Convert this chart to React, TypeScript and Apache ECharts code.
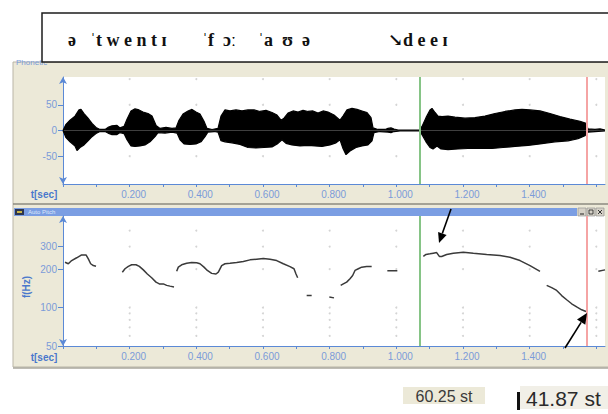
import React, { useEffect, useRef } from "react";
import * as echarts from "echarts";

// ---------- data ----------
const timeTicks = [0, 0.1, 0.2, 0.3, 0.4, 0.5, 0.6, 0.7, 0.8, 0.9, 1.0, 1.1, 1.2, 1.3, 1.4, 1.5, 1.6];
const timeLabels = [0.2, 0.4, 0.6, 0.8, 1.0, 1.2, 1.4];
const gridTimes = [0.2, 0.4, 0.6, 0.8, 1.0, 1.2, 1.4, 1.6];
const timeMax = 1.626;

const ampMajorTicks = [-50, 0, 50];
const ampMinorTicks = [-100, -75, -25, 25, 75, 100];
const ampGridLevels = [100, 50, -50];

const freqLabels = [50, 100, 200, 300];
const freqMinorTicks = [60, 70, 80, 90, 400];
const freqGridLevels = [400, 300, 200, 100, 90, 80, 70, 60];
const freqMin = 50;
const freqMax = 520;

// waveform envelope: [time s, amplitude]
const waveUpper: [number, number][] = [
  [0.000, 0], [0.009, 12], [0.021, 20], [0.036, 28], [0.048, 40], [0.054, 41], [0.063, 33], [0.075, 24], [0.087, 14], [0.099, 6],
  [0.111, 2], [0.126, 2], [0.135, 6], [0.147, 9], [0.162, 10], [0.171, 5], [0.183, 8], [0.192, 22], [0.204, 38], [0.216, 42],
  [0.228, 40], [0.240, 36], [0.255, 33], [0.267, 28], [0.279, 10], [0.291, 4], [0.309, 6], [0.327, 4], [0.339, 5], [0.348, 20],
  [0.360, 32], [0.375, 38], [0.387, 41], [0.399, 36], [0.411, 32], [0.423, 18], [0.432, 4], [0.447, 2], [0.465, 4], [0.474, 28],
  [0.486, 40], [0.501, 38], [0.519, 40], [0.537, 38], [0.555, 40], [0.573, 40], [0.591, 37], [0.609, 39], [0.627, 35], [0.642, 30],
  [0.654, 20], [0.663, 24], [0.675, 34], [0.690, 38], [0.705, 36], [0.720, 39], [0.735, 37], [0.750, 38], [0.765, 34], [0.780, 38],
  [0.795, 36], [0.813, 30], [0.831, 20], [0.840, 28], [0.852, 40], [0.867, 43], [0.882, 41], [0.897, 38], [0.912, 35], [0.924, 25],
  [0.930, 5], [0.945, 2], [0.966, 2], [0.975, 4], [0.984, 5], [0.993, 3], [1.005, 1], [1.071, 1], [1.077, 8], [1.089, 25],
  [1.101, 40], [1.107, 43], [1.116, 35], [1.125, 28], [1.137, 27], [1.155, 28], [1.176, 26], [1.206, 24], [1.236, 25], [1.266, 28],
  [1.296, 33], [1.326, 37], [1.356, 40], [1.377, 41], [1.401, 40], [1.431, 38], [1.461, 33], [1.491, 27], [1.521, 22], [1.551, 18],
  [1.569, 14], [1.575, 3], [1.596, 2], [1.611, 3], [1.626, 1],
];
const waveLower: [number, number][] = [
  [0.000, 0], [0.009, -14], [0.021, -22], [0.036, -30], [0.042, -39], [0.051, -33], [0.063, -28], [0.075, -20], [0.087, -12], [0.099, -6],
  [0.111, -2], [0.126, -2], [0.135, -5], [0.147, -8], [0.162, -8], [0.171, -4], [0.183, -6], [0.192, -18], [0.204, -30], [0.216, -31],
  [0.231, -30], [0.246, -28], [0.261, -22], [0.276, -12], [0.285, -4], [0.306, -5], [0.327, -3], [0.342, -5], [0.351, -18], [0.363, -26],
  [0.381, -27], [0.399, -26], [0.414, -22], [0.426, -12], [0.435, -3], [0.453, -2], [0.465, -3], [0.474, -20], [0.486, -22], [0.507, -24],
  [0.531, -27], [0.555, -33], [0.579, -34], [0.603, -33], [0.627, -32], [0.645, -25], [0.657, -18], [0.669, -25], [0.687, -28], [0.711, -30],
  [0.735, -29], [0.756, -30], [0.777, -31], [0.801, -28], [0.819, -24], [0.831, -18], [0.840, -35], [0.849, -47], [0.861, -40], [0.879, -33],
  [0.897, -30], [0.915, -28], [0.927, -20], [0.933, -4], [0.951, -2], [0.975, -3], [0.984, -4], [0.993, -2], [1.011, -1], [1.071, -1],
  [1.077, -8], [1.089, -22], [1.101, -33], [1.110, -36], [1.122, -30], [1.134, -36], [1.155, -37], [1.185, -36], [1.215, -35], [1.251, -35],
  [1.287, -35], [1.320, -33], [1.356, -31], [1.395, -29], [1.431, -26], [1.476, -22], [1.515, -20], [1.545, -16], [1.566, -10], [1.575, -3],
  [1.596, -2], [1.626, -1],
];

// pitch track: [time s, Hz] (null = unvoiced gap)
const pitchTrack: [number, number | null][] = [
  [0.006, 226], [0.016, 220], [0.026, 233], [0.041, 245], [0.056, 258], [0.069, 258], [0.076, 240], [0.083, 220], [0.091, 213], [0.099, 210],
  [0.140, null],
  [0.178, 189], [0.186, 201], [0.196, 210], [0.206, 216], [0.219, 216], [0.229, 210], [0.241, 197], [0.253, 183], [0.266, 171], [0.279, 158],
  [0.289, 153], [0.301, 153], [0.311, 149], [0.321, 147], [0.333, 145],
  [0.337, null],
  [0.341, 192], [0.346, 207], [0.356, 216], [0.371, 222], [0.386, 225], [0.401, 224], [0.411, 220], [0.423, 207], [0.433, 195], [0.446, 185],
  [0.459, 183], [0.466, 189], [0.476, 213], [0.486, 220], [0.501, 222], [0.521, 225], [0.541, 229], [0.561, 236], [0.581, 239], [0.601, 242],
  [0.621, 239], [0.641, 233], [0.661, 220], [0.681, 209], [0.693, 201], [0.699, 183], [0.704, 171],
  [0.720, null],
  [0.731, 124], [0.746, 124],
  [0.770, null],
  [0.799, 121], [0.813, 119],
  [0.825, null],
  [0.833, 149], [0.841, 153], [0.851, 158], [0.861, 168], [0.869, 178], [0.876, 195], [0.886, 201], [0.896, 207], [0.911, 209], [0.926, 209],
  [0.950, null],
  [0.973, 194], [1.003, 194],
  [1.040, null],
  [1.081, 251], [1.089, 260], [1.101, 263], [1.111, 266], [1.121, 269], [1.129, 251], [1.136, 251], [1.151, 260], [1.171, 266], [1.201, 271],
  [1.231, 266], [1.271, 260], [1.311, 255], [1.341, 247], [1.371, 233], [1.401, 213], [1.431, 192],
  [1.440, null],
  [1.451, 149], [1.466, 143], [1.481, 136], [1.496, 124], [1.511, 115], [1.526, 107], [1.541, 101], [1.556, 96], [1.569, 93],
  [1.590, null],
  [1.606, 192], [1.626, 197],
];

const cursorStart = 1.071;
const cursorEnd = 1.572;

const ipaGroups = ["ə", "ˈt w e n t ɪ", "ˈf\u2002ɔː", "ˈa\u2002ʊ\u2002ə", "↘d e e ɪ"];
const readouts = ["60.25 st", "41.87 st"];
const panelTitle = "Phonetic";
const pitchWindowTitle = "Auto Pitch";

// ---------- styles / layout ----------
const BLUE = "#5b89d6";
const LABEL_BLUE = "#7b9bd9";
const NAME_BLUE = "#4a78cc";
const BEIGE = "#ece9d8";
const SANS = "'Liberation Sans', Arial, sans-serif";
const ipaX = [68, 90, 202, 258, 388];

const log2 = (v: number) => Math.log2(v);

export default function App() {
  const ref = useRef<HTMLDivElement>(null);

  useEffect(() => {
    if (!ref.current) return;
    const chart = echarts.init(ref.current, undefined, { renderer: "svg" });

    const timeAxis = (gridIndex: number) => ({
      type: "value",
      gridIndex,
      min: 0,
      max: timeMax,
      axisLine: { show: true, onZero: false, lineStyle: { color: BLUE, width: 1 } },
      axisTick: { show: true, length: 3, customValues: timeTicks, lineStyle: { color: BLUE } },
      axisLabel: {
        show: true,
        customValues: timeLabels,
        formatter: (v: number) => v.toFixed(3),
        color: LABEL_BLUE,
        fontSize: 10,
        fontFamily: SANS,
        margin: 5,
        padding: [0, 0, 0, 8],
      },
      splitLine: { show: false },
    });

    const gridDots = (xs: number[], ys: number[], mapY: (v: number) => number) => {
      const out: number[][] = [];
      xs.forEach((x) => ys.forEach((y) => out.push([x, mapY(y)])));
      return out;
    };

    const ipaElements = ipaGroups.map((g, i) => ({
      type: "text",
      x: ipaX[i],
      y: 40,
      z: 12,
      style: {
        text: g,
        fill: "#111",
        font: "bold 18px 'Liberation Serif', 'DejaVu Serif', serif",
        verticalAlign: "middle",
        align: "left",
      },
    }));

    const option: any = {
      animation: false,
      backgroundColor: "#ffffff",
      grid: [
        { left: 63, top: 77, width: 542, height: 107, show: false },
        { left: 63, top: 216, width: 542, height: 130, show: false },
      ],
      xAxis: [timeAxis(0), timeAxis(1)],
      yAxis: [
        {
          type: "value",
          gridIndex: 0,
          min: -104,
          max: 104,
          offset: 3,
          axisLine: { show: true, symbol: ["arrow", "arrow"], symbolSize: [6, 7], lineStyle: { color: BLUE } },
          axisTick: { show: true, length: 5, customValues: ampMajorTicks, lineStyle: { color: BLUE } },
          axisLabel: { customValues: ampMajorTicks, color: LABEL_BLUE, fontSize: 10, fontFamily: SANS, margin: 3 },
          splitLine: { show: false },
        },
        {
          type: "value",
          gridIndex: 0,
          min: -104,
          max: 104,
          offset: 3,
          axisLine: { show: false },
          axisTick: { show: true, length: 3, customValues: ampMinorTicks, lineStyle: { color: BLUE } },
          axisLabel: { show: false },
          splitLine: { show: false },
        },
        {
          type: "value",
          gridIndex: 1,
          min: log2(freqMin),
          max: log2(freqMax),
          offset: 3,
          axisLine: { show: true, symbol: ["arrow", "arrow"], symbolSize: [6, 7], lineStyle: { color: BLUE } },
          axisTick: { show: true, length: 5, customValues: freqLabels.map(log2), lineStyle: { color: BLUE } },
          axisLabel: {
            customValues: freqLabels.map(log2),
            formatter: (v: number) => String(Math.round(Math.pow(2, v))),
            color: LABEL_BLUE,
            fontSize: 10,
            fontFamily: SANS,
            margin: 3,
          },
          splitLine: { show: false },
        },
        {
          type: "value",
          gridIndex: 1,
          min: log2(freqMin),
          max: log2(freqMax),
          offset: 3,
          axisLine: { show: false },
          axisTick: { show: true, length: 3, customValues: freqMinorTicks.map(log2), lineStyle: { color: BLUE } },
          axisLabel: { show: false },
          splitLine: { show: false },
        },
      ],
      series: [
        {
          type: "scatter",
          xAxisIndex: 0,
          yAxisIndex: 0,
          silent: true,
          symbolSize: 2,
          itemStyle: { color: "#c9c9c9" },
          data: gridDots(gridTimes, ampGridLevels, (v) => v),
          z: 1,
        },
        {
          type: "scatter",
          xAxisIndex: 1,
          yAxisIndex: 2,
          silent: true,
          symbolSize: 2,
          itemStyle: { color: "#c9c9c9" },
          data: gridDots(gridTimes, freqGridLevels, log2),
          z: 1,
        },
        {
          type: "line",
          xAxisIndex: 0,
          yAxisIndex: 0,
          data: waveUpper,
          symbol: "none",
          silent: true,
          lineStyle: { color: "#000", width: 1.2 },
          areaStyle: { color: "#000", opacity: 1, origin: 0 },
          z: 3,
        },
        {
          type: "line",
          xAxisIndex: 0,
          yAxisIndex: 0,
          data: waveLower,
          symbol: "none",
          silent: true,
          lineStyle: { color: "#000", width: 1.2 },
          areaStyle: { color: "#000", opacity: 1, origin: 0 },
          z: 3,
          markLine: {
            silent: true,
            symbol: "none",
            label: { show: false },
            data: [
              { xAxis: cursorStart, lineStyle: { color: "#86c486", width: 2, type: "solid" } },
              { xAxis: cursorEnd, lineStyle: { color: "#f5a4a4", width: 2, type: "solid" } },
            ],
          },
        },
        {
          type: "line",
          xAxisIndex: 1,
          yAxisIndex: 2,
          data: pitchTrack.map(([t, f]) => [t, f == null ? "-" : log2(f)]),
          symbol: "none",
          silent: true,
          connectNulls: false,
          lineStyle: { color: "#3a3a3a", width: 1.5 },
          z: 3,
          markLine: {
            silent: true,
            symbol: "none",
            label: { show: false },
            data: [
              { xAxis: cursorStart, lineStyle: { color: "#86c486", width: 2, type: "solid" } },
              { xAxis: cursorEnd, lineStyle: { color: "#f5a4a4", width: 2, type: "solid" } },
            ],
          },
        },
      ],
      graphic: {
        elements: [
          // panel backgrounds
          { type: "rect", z: -10, silent: true, shape: { x: 13, y: 62, width: 596, height: 305 }, style: { fill: BEIGE, stroke: "#b9b5a6", lineWidth: 1 } },
          { type: "rect", z: -9, silent: true, shape: { x: 63, y: 77, width: 542, height: 107 }, style: { fill: "#ffffff" } },
          { type: "rect", z: -9, silent: true, shape: { x: 63, y: 216, width: 542, height: 130 }, style: { fill: "#ffffff" } },
          { type: "line", z: -8, silent: true, shape: { x1: 13, y1: 204, x2: 608, y2: 204 }, style: { stroke: "#8d8a80", lineWidth: 1.5 } },
          { type: "line", z: -8, silent: true, shape: { x1: 13, y1: 368, x2: 608, y2: 368 }, style: { stroke: "#a9a69b", lineWidth: 1.5 } },
          // pitch window title bar
          { type: "rect", z: -8, silent: true, shape: { x: 14, y: 208, width: 563, height: 8 }, style: { fill: "#7b9ee3" } },
          { type: "rect", z: -7, silent: true, shape: { x: 15, y: 209, width: 9, height: 6 }, style: { fill: "#2c3550" } },
          { type: "rect", z: -6, silent: true, shape: { x: 17, y: 211, width: 5, height: 2 }, style: { fill: "#c9b64a" } },
          {
            type: "text", z: -6, silent: true, x: 28, y: 212,
            style: { text: pitchWindowTitle, fill: "#dfe7fb", font: `6px ${SANS}`, verticalAlign: "middle" },
          },
          { type: "rect", z: -7, silent: true, shape: { x: 578, y: 208, width: 8, height: 8 }, style: { fill: "#d6d2c8", stroke: "#8a8a8a", lineWidth: 0.6 } },
          { type: "rect", z: -7, silent: true, shape: { x: 587, y: 208, width: 8, height: 8 }, style: { fill: "#d6d2c8", stroke: "#8a8a8a", lineWidth: 0.6 } },
          { type: "rect", z: -7, silent: true, shape: { x: 596, y: 208, width: 8, height: 8 }, style: { fill: "#d6d2c8", stroke: "#8a8a8a", lineWidth: 0.6 } },
          { type: "line", z: -6, silent: true, shape: { x1: 580, y1: 214, x2: 584, y2: 214 }, style: { stroke: "#222", lineWidth: 1 } },
          { type: "rect", z: -6, silent: true, shape: { x: 589, y: 210, width: 4, height: 4 }, style: { fill: "none", stroke: "#222", lineWidth: 0.8 } },
          { type: "line", z: -6, silent: true, shape: { x1: 598, y1: 210, x2: 602, y2: 214 }, style: { stroke: "#222", lineWidth: 0.9 } },
          { type: "line", z: -6, silent: true, shape: { x1: 602, y1: 210, x2: 598, y2: 214 }, style: { stroke: "#222", lineWidth: 0.9 } },
          // panel title (partly hidden by the transcription box)
          {
            type: "text", z: 5, silent: true, x: 16, y: 62,
            style: { text: panelTitle, fill: LABEL_BLUE, font: `8px ${SANS}`, verticalAlign: "middle" },
          },
          // transcription box
          { type: "rect", z: 10, silent: true, shape: { x: 42, y: 13, width: 580, height: 49 }, style: { fill: "#ffffff", stroke: "#1c1c1c", lineWidth: 1.5 } },
          ...ipaElements,
          // axis names
          {
            type: "text", z: 6, silent: true, x: 44, y: 194,
            style: { text: "t[sec]", fill: NAME_BLUE, font: `bold 10px ${SANS}`, align: "center", verticalAlign: "middle" },
          },
          {
            type: "text", z: 6, silent: true, x: 44, y: 357,
            style: { text: "t[sec]", fill: NAME_BLUE, font: `bold 10px ${SANS}`, align: "center", verticalAlign: "middle" },
          },
          {
            type: "text", z: 6, silent: true, x: 26, y: 287, rotation: Math.PI / 2,
            style: { text: "f(Hz)", fill: NAME_BLUE, font: `bold 10px ${SANS}`, align: "center", verticalAlign: "middle" },
          },
          // annotation arrows
          { type: "line", z: 20, silent: true, shape: { x1: 451, y1: 209, x2: 442.3, y2: 233.6 }, style: { stroke: "#000", lineWidth: 1.6 } },
          { type: "polygon", z: 20, silent: true, shape: { points: [[439, 243], [446.6, 235.1], [438.1, 232.1]] }, style: { fill: "#000" } },
          { type: "line", z: 20, silent: true, shape: { x1: 565, y1: 348, x2: 581.1, y2: 322.4 }, style: { stroke: "#000", lineWidth: 1.6 } },
          { type: "polygon", z: 20, silent: true, shape: { points: [[587, 313], [585.3, 324.8], [577, 319.6]] }, style: { fill: "#000" } },
          // readouts
          { type: "rect", z: 5, silent: true, shape: { x: 403, y: 387, width: 82, height: 17 }, style: { fill: BEIGE } },
          {
            type: "text", z: 6, silent: true, x: 444, y: 396,
            style: { text: readouts[0], fill: "#3a3a3a", font: `16px ${SANS}`, align: "center", verticalAlign: "middle" },
          },
          { type: "rect", z: 5, silent: true, shape: { x: 520, y: 386, width: 88, height: 23 }, style: { fill: "#f1efe7" } },
          { type: "rect", z: 6, silent: true, shape: { x: 517, y: 392, width: 3, height: 18 }, style: { fill: "#111" } },
          {
            type: "text", z: 6, silent: true, x: 526, y: 398,
            style: { text: readouts[1], fill: "#2a2a2a", font: `21px ${SANS}`, align: "left", verticalAlign: "middle" },
          },
        ],
      },
    };

    chart.setOption(option);
    return () => chart.dispose();
  }, []);

  return (
    <div
      ref={ref}
      style={{ position: "fixed", left: 0, top: 0, width: 608, height: 414, background: "#fff" }}
    />
  );
}
